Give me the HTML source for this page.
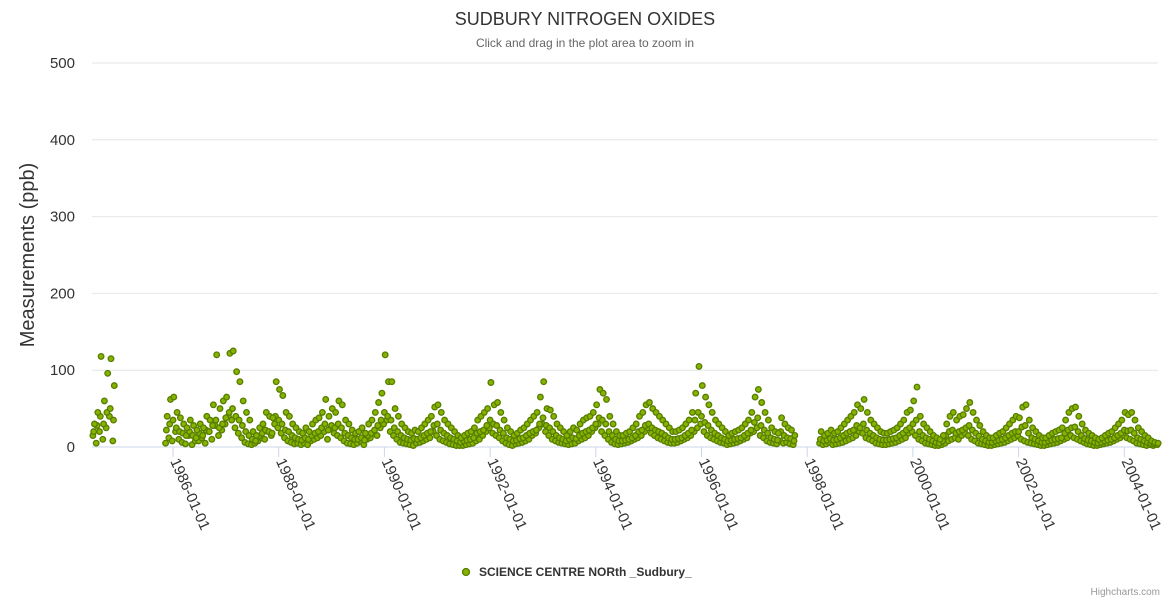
<!DOCTYPE html>
<html><head><meta charset="utf-8">
<style>
html,body{margin:0;padding:0;background:#fff;}
svg{display:block;font-family:"Liberation Sans",sans-serif;}
</style></head>
<body>
<svg id="chart" width="1170" height="600" viewBox="0 0 1170 600">
<rect x="0" y="0" width="1170" height="600" fill="#fff"/>
<text x="585" y="25" text-anchor="middle" font-size="18" fill="#333">SUDBURY NITROGEN OXIDES</text>
<text x="585" y="47" text-anchor="middle" font-size="12" fill="#666">Click and drag in the plot area to zoom in</text>
<text transform="translate(34,255) rotate(-90)" text-anchor="middle" font-size="20" fill="#333">Measurements (ppb)</text>
<g id="grid"></g><g id="yticks"></g><g id="xaxis"></g><g id="points"></g>
<g>
<circle cx="466" cy="572" r="3.5" fill="#86b300" stroke="#577d00" stroke-width="1.3"/>
<text x="479" y="576" font-size="12" font-weight="bold" fill="#333">SCIENCE CENTRE NORth _Sudbury_</text>
</g>
<text x="1160" y="595" text-anchor="end" font-size="10" fill="#999">Highcharts.com</text>
</svg>
<script>
const startYear = 1984.5;
const stepYears = 1/16;
const yTicks = [0,100,200,300,400,500];
const xTickYears = [1986,1988,1990,1992,1994,1996,1998,2000,2002,2004];
const xTickLabels = ["1986-01-01","1988-01-01","1990-01-01","1992-01-01","1994-01-01","1996-01-01","1998-01-01","2000-01-01","2002-01-01","2004-01-01"];
const n=null;
const valsHigh = [
30,45,118,60,96,115,80,n,n,n,n,n,n,n,n,n,
n,n,n,n,n,n,40,62,65,45,38,30,25,35,28,22,
30,25,40,35,55,120,50,60,65,122,125,98,85,60,45,35,
20,15,25,30,45,40,38,85,75,67,45,40,30,25,20,18,
25,20,30,35,38,45,62,40,50,45,60,55,35,30,22,18,
20,25,18,30,35,45,58,70,120,85,85,50,40,30,25,20,
18,22,20,25,30,35,40,52,55,45,35,30,25,20,15,12,
15,18,20,25,35,40,45,50,84,55,58,45,35,25,20,15,
18,22,25,30,35,40,45,65,85,50,48,40,30,25,20,15,
20,25,22,30,35,38,40,45,55,75,70,62,40,30,20,15,
15,18,20,25,30,40,45,55,58,50,45,40,35,30,25,20,
20,22,25,30,35,45,70,105,80,65,55,45,35,30,25,20,
15,18,20,22,25,30,35,45,65,75,58,45,35,25,20,18,
38,30,25,22,15,n,n,n,n,n,n,n,20,15,18,22,
18,20,25,30,35,40,45,55,50,62,45,35,30,25,20,18,
18,20,22,25,30,35,45,48,60,78,40,30,25,20,15,12,
10,15,30,40,45,35,40,42,50,58,45,35,28,20,15,12,
12,15,18,20,25,30,35,40,38,52,55,35,25,20,15,12,
12,15,18,20,22,25,35,45,50,52,40,30,22,18,15,12,
10,12,15,18,20,25,30,35,45,42,45,35,25,20,15,12,
8,6,5];
const valsMid = [
20,28,40,30,45,50,35,n,n,n,n,n,n,n,n,n,
n,n,n,n,n,n,22,30,35,25,20,18,15,20,15,12,
18,15,22,20,28,35,25,30,38,45,50,40,35,28,20,15,
10,8,14,18,22,20,18,40,35,30,22,20,15,12,10,9,
12,10,15,18,20,25,30,22,28,25,30,25,18,15,12,10,
10,12,9,15,18,22,28,35,45,40,35,25,20,15,12,10,
9,11,10,12,15,18,20,28,30,22,18,15,12,10,8,6,
8,9,10,12,18,20,22,28,35,30,28,22,18,12,10,8,
9,11,12,15,18,20,22,30,38,28,25,20,15,12,10,8,
10,12,11,15,18,20,22,25,30,38,35,30,20,15,10,8,
8,9,10,12,15,20,22,28,30,25,22,20,18,15,12,10,
10,11,12,15,18,22,35,45,40,32,28,22,18,15,12,10,
8,9,10,11,12,15,18,22,32,38,28,22,18,12,10,9,
20,15,12,11,8,n,n,n,n,n,n,n,10,8,9,11,
9,10,12,15,18,20,22,28,25,30,22,18,15,12,10,9,
9,10,11,12,15,18,22,25,30,35,20,15,12,10,8,6,
5,8,15,20,22,18,20,22,25,28,22,18,14,10,8,6,
6,8,9,10,12,15,18,20,20,26,28,18,12,10,8,6,
6,8,9,10,11,12,18,22,25,26,20,15,11,9,8,6,
5,6,8,9,10,12,15,18,22,21,22,18,12,10,8,6,
5,4,3];
const valsLow = [
15,5,20,10,25,40,8,n,n,n,n,n,n,n,n,n,
n,n,n,n,n,n,5,12,8,20,10,6,4,15,3,8,
8,12,5,20,10,28,15,22,30,40,35,25,18,12,6,4,
3,5,8,12,10,20,15,30,25,18,12,8,6,4,5,3,
5,3,8,10,12,15,20,10,25,18,15,12,8,5,4,3,
5,8,3,10,12,18,15,25,30,35,20,15,10,6,5,4,
3,2,5,6,8,10,12,20,15,10,8,6,4,3,2,2,
2,3,4,5,8,10,15,20,25,18,15,12,8,5,3,2,
4,5,6,8,10,15,18,25,30,20,15,10,8,6,5,4,
3,4,5,8,10,12,15,20,25,30,20,15,10,6,4,3,
4,5,6,8,10,12,15,20,25,18,15,12,10,8,6,5,
5,6,8,10,12,15,20,25,30,20,15,12,10,8,6,5,
3,4,5,6,8,10,12,18,20,25,15,12,8,6,5,4,
8,5,6,4,3,n,n,n,n,n,n,n,5,3,4,6,
3,4,5,6,8,10,12,15,20,18,12,10,8,5,4,3,
3,4,5,6,8,10,12,18,20,15,10,8,5,4,3,2,
2,3,5,8,10,12,10,15,18,15,10,8,5,4,3,2,
2,3,4,5,6,8,10,12,15,10,8,6,5,4,3,2,
2,3,4,5,6,8,10,12,15,12,10,8,6,4,3,2,
2,3,4,5,6,8,10,12,15,12,10,8,5,4,3,2,
3,2,4];

const NS="http://www.w3.org/2000/svg";
const plotL=92, plotR=1158, plotT=63, plotB=447;
function yScale(v){return plotB-(v/500)*(plotB-plotT);}
function xScale(yr){return 173+(yr-1986)*52.85;}

const grid=document.getElementById('grid'), yt=document.getElementById('yticks');
yTicks.forEach(t=>{
  const l=document.createElementNS(NS,'line');
  
  
  l.setAttribute('x1',plotL);l.setAttribute('x2',plotR);
  l.setAttribute('y1',yScale(t));l.setAttribute('y2',yScale(t));
  l.setAttribute('stroke',t===0?'#ccd6eb':'#e6e6e6');l.setAttribute('stroke-width','1');
  grid.appendChild(l);
  const tx=document.createElementNS(NS,'text');
  
  
  tx.setAttribute('x',75);tx.setAttribute('y',yScale(t)+5);
  tx.setAttribute('text-anchor','end');tx.setAttribute('font-size','15');tx.setAttribute('fill','#333');
  tx.textContent=t;yt.appendChild(tx);
});
const xa=document.getElementById('xaxis');
xTickYears.forEach((yr,i)=>{
  const x=xScale(yr);
  const l=document.createElementNS(NS,'line');
  
  
  l.setAttribute('x1',x);l.setAttribute('x2',x);l.setAttribute('y1',plotB);l.setAttribute('y2',plotB+10);
  l.setAttribute('stroke','#ccd6eb');xa.appendChild(l);
  const tx=document.createElementNS(NS,'text');
  
  
  tx.setAttribute('transform','translate('+(x-3)+','+(plotB+14)+') rotate(66)');
  tx.setAttribute('font-size','15');tx.setAttribute('fill','#333');
  tx.textContent=xTickLabels[i];xa.appendChild(tx);
});
const pts=document.getElementById('points');
[valsLow,valsMid,valsHigh].forEach((arr,k)=>{
  arr.forEach((v,i)=>{
    if(v===null)return;
    const yr=startYear+i*stepYears+(k-1)*0.015;
    const c=document.createElementNS(NS,'circle');
    
    
    c.setAttribute('cx',xScale(yr).toFixed(1));c.setAttribute('cy',yScale(v).toFixed(1));
    c.setAttribute('r','2.8');c.setAttribute('fill','#86b300');c.setAttribute('stroke','#577d00');c.setAttribute('stroke-width','1.3');
    pts.appendChild(c);
  });
});
</script>
</body></html>
